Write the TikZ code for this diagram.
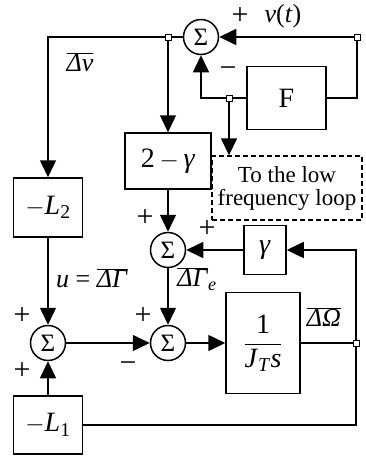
\documentclass[tikz,border=0pt]{standalone}
\usepackage{fontspec}
\setmainfont{Liberation Serif}
\usetikzlibrary{arrows.meta,positioning,calc}

\newcommand{\ovl}[1]{\ensuremath{\overline{\mbox{#1}}}}

\begin{document}
\begin{tikzpicture}[x=1pt, y=-1pt,
  block/.style={rectangle, draw=black, line width=1.5pt, inner sep=0pt, font=\fontsize{28}{30}\selectfont, align=center},
  sumnode/.style={circle, draw=black, line width=1.5pt, minimum size=35pt, inner sep=0pt, font=\fontsize{25}{27}\selectfont},
  junc/.style={rectangle, draw=black, fill=white, line width=1pt, minimum size=6pt, inner sep=0pt},
  sig/.style={-{Triangle[length=17pt, width=16pt]}, line width=1.5pt},
  wire/.style={line width=1.5pt},
  lbl/.style={inner sep=0pt, font=\fontsize{26}{28}\selectfont},
  sign/.style={inner sep=0pt, font=\fontsize{30}{32}\selectfont}
]
\useasboundingbox (0,0) rectangle (366,456);

% Blocks
\node[block, minimum width=79pt, minimum height=63pt] (F) at (286.5, 98) {F};
\node[block, minimum width=86pt, minimum height=56pt] (twogam) at (168, 161) {2\,$-$\,\textit{γ}};
\node[block, minimum width=69pt, minimum height=59pt] (L2) at (48, 207.5) {$-$\textit{L}\textsubscript{2}};
\node[block, minimum width=42pt, minimum height=49pt] (gam) at (265, 250) {\textit{γ}};
\node[block, minimum width=74pt, minimum height=101pt] (JT) at (263, 343) {\ensuremath{\displaystyle\frac{\mbox{1}}{\mbox{\textit{J}\textsubscript{\textit{T}}\textit{s}}}}};
\node[block, minimum width=69pt, minimum height=58pt] (L1) at (48, 425) {$-$\textit{L}\textsubscript{1}};
\node[block, dash pattern=on 5pt off 3pt, line width=1.4pt, minimum width=150pt, minimum height=64pt, font=\fontsize{23}{23}\selectfont] (low) at (287, 188) {To the low\\frequency loop};

% Summing points
\node[sumnode] (sum1) at (201, 37) {Σ};
\node[sumnode] (sum2) at (168, 250) {Σ};
\node[sumnode] (sum3) at (48, 343) {Σ};
\node[sumnode] (sum4) at (168, 343) {Σ};

% Branch points
\node[junc] (jA) at (168, 37) {};
\node[junc] (jB) at (357, 37) {};
\node[junc] (jC) at (229, 98) {};
\node[junc] (jOut) at (356, 343) {};

% Top loop
\draw[sig] (jB) -- (sum1.east);
\draw[wire] (jB) |- (F.east);
\draw[wire] (F.west) -- (jC);
\draw[sig] (jC) -| (sum1.south);
\draw[sig] (jC) -- (jC |- low.north);
\draw[wire] (sum1.west) -- (jA);
\draw[sig] (jA) -| (L2.north);
\draw[sig] (jA) -- (twogam.north);

% Middle and bottom
\draw[sig] (twogam.south) -- (sum2.north);
\draw[sig] (gam.west) -- (sum2.east);
\draw[sig] (sum2.south) -- (sum4.north);
\draw[sig] (L2.south) -- (sum3.north);
\draw[sig] (L1.north) -- (sum3.south);
\draw[sig] (sum3.east) -- (sum4.west);
\draw[sig] (sum4.east) -- (JT.west);
\draw[wire] (JT.east) -- (jOut);
\draw[sig] (jOut) |- (gam.east);
\draw[wire] (jOut) |- (L1.east);

% Signs and signal names
\node[sign] (pv) at (240, 16) {+};
\node[lbl] (vt) at (283, 16) {\textit{v}(\textit{t})};
\node[sign] (mF) at (228, 72) {−};
\node[lbl] (dv) at (80, 62) {\ovl{\textit{Δv}}};
\node[sign] (p2a) at (145, 218) {+};
\node[sign] (p2b) at (207, 229) {+};
\node[lbl] (u) at (92, 278) {\textit{u} = \ovl{\textit{ΔΓ}}};
\node[lbl] (dge) at (197, 279) {\ovl{\textit{ΔΓ}}\textsubscript{\textit{e}}};
\node[lbl] (dom) at (324, 317) {\ovl{\textit{ΔΩ}}};
\node[sign] (p3a) at (22, 316) {+};
\node[sign] (p3b) at (22, 371) {+};
\node[sign] (p4a) at (143, 316) {+};
\node[sign] (m4) at (128, 367) {−};

\end{tikzpicture}
\end{document}
